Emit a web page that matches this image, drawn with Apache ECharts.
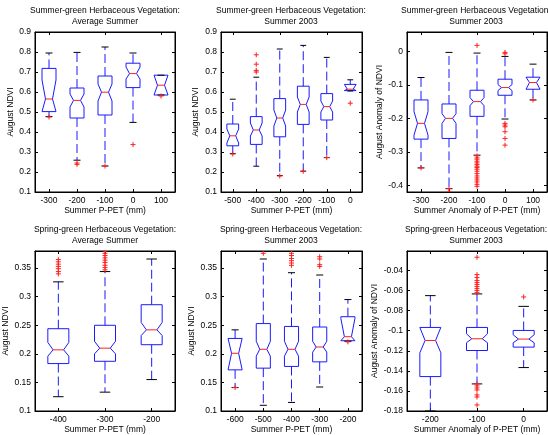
<!DOCTYPE html>
<html>
<head>
<meta charset="utf-8">
<script src="https://cdn.jsdelivr.net/npm/echarts@6/dist/echarts.min.js"></script>
<style>
  html, body { margin: 0; padding: 0; background: #fff; }
  #chart { width: 548px; height: 435px; }
</style>
</head>
<body>
<div id="chart"></div>
<script>
// box rows: [lower whisker, q1, median, q3, upper whisker]; notch: [low, high]; outliers: [category index, value]

// Summer-green, average summer
const p1Cats = ['-300', '-200', '-100', '0', '100'];
const p1Box = [
  [0.477, 0.502, 0.565, 0.718, 0.795],
  [0.259, 0.470, 0.558, 0.620, 0.798],
  [0.230, 0.485, 0.599, 0.680, 0.825],
  [0.448, 0.622, 0.692, 0.744, 0.795],
  [0.585, 0.585, 0.634, 0.684, 0.684]
];
const p1Notch = [[0.47, 0.66], [0.525, 0.59], [0.555, 0.64], [0.665, 0.725], [0.58, 0.69]];
const p1Out = [[0, 0.475], [1, 0.245], [1, 0.238], [2, 0.23], [3, 0.337], [4, 0.58]];
const p1YTicks = [0.1, 0.2, 0.3, 0.4, 0.5, 0.6, 0.7, 0.8, 0.9];

// Summer-green, summer 2003
const p2Cats = ['-500', '-400', '-300', '-200', '-100', '0'];
const p2Box = [
  [0.292, 0.331, 0.381, 0.440, 0.564],
  [0.229, 0.338, 0.410, 0.477, 0.674],
  [0.182, 0.376, 0.470, 0.567, 0.815],
  [0.204, 0.438, 0.538, 0.629, 0.833],
  [0.272, 0.460, 0.527, 0.592, 0.773],
  [0.605, 0.607, 0.614, 0.638, 0.661]
];
const p2Notch = [[0.345, 0.415], [0.38, 0.445], [0.43, 0.51], [0.5, 0.575], [0.5, 0.555], [0.6, 0.64]];
const p2Out = [[0, 0.29], [1, 0.786], [1, 0.739], [1, 0.708], [1, 0.70], [2, 0.18], [3, 0.204], [4, 0.272], [5, 0.544]];
const p2YTicks = [0.1, 0.2, 0.3, 0.4, 0.5, 0.6, 0.7, 0.8, 0.9];

// Summer-green, summer 2003 anomalies
const p3Cats = ['-300', '-200', '-100', '0', '100'];
const p3Box = [
  [-0.348, -0.262, -0.215, -0.145, -0.078],
  [-0.410, -0.260, -0.200, -0.157, -0.003],
  [-0.310, -0.194, -0.150, -0.116, -0.005],
  [-0.202, -0.131, -0.108, -0.083, -0.015],
  [-0.145, -0.113, -0.093, -0.077, -0.038]
];
const p3Notch = [[-0.25, -0.18], [-0.215, -0.186], [-0.162, -0.138], [-0.117, -0.099], [-0.115, -0.075]];
const p3Out = [
  [0, -0.348], [1, -0.41], [1, -0.42],
  [2, 0.018], [2, -0.312], [2, -0.318], [2, -0.322], [2, -0.328], [2, -0.333], [2, -0.338],
  [2, -0.343], [2, -0.347], [2, -0.352], [2, -0.358], [2, -0.365], [2, -0.372], [2, -0.378],
  [2, -0.384], [2, -0.39], [2, -0.397], [2, -0.403],
  [3, -0.003], [3, -0.007], [3, -0.215], [3, -0.22], [3, -0.225], [3, -0.24], [3, -0.26], [3, -0.28],
  [4, -0.145]
];
const p3YTicks = [-0.4, -0.3, -0.2, -0.1, 0];

// Spring-green, average summer
const p4Cats = ['-400', '-300', '-200'];
const p4Box = [
  [0.125, 0.183, 0.207, 0.244, 0.326],
  [0.133, 0.187, 0.210, 0.250, 0.344],
  [0.155, 0.216, 0.242, 0.286, 0.366]
];
const p4Notch = [[0.196, 0.22], [0.2, 0.222], [0.232, 0.255]];
const p4Out = [
  [0, 0.34], [0, 0.344], [0, 0.349], [0, 0.353], [0, 0.357], [0, 0.361], [0, 0.365],
  [1, 0.347], [1, 0.351], [1, 0.355], [1, 0.36], [1, 0.364], [1, 0.368], [1, 0.372], [1, 0.376], [1, 0.38]
];
const p4YTicks = [0.1, 0.15, 0.2, 0.25, 0.3, 0.35];

// Spring-green, summer 2003
const p5Cats = ['-600', '-500', '-400', '-300', '-200'];
const p5Box = [
  [0.141, 0.172, 0.201, 0.227, 0.242],
  [0.110, 0.175, 0.208, 0.253, 0.366],
  [0.115, 0.178, 0.208, 0.248, 0.342],
  [0.142, 0.186, 0.212, 0.247, 0.338],
  [0.222, 0.223, 0.230, 0.265, 0.295]
];
const p5Notch = [[0.17, 0.23], [0.196, 0.222], [0.196, 0.222], [0.203, 0.222], [0.222, 0.262]];
const p5Out = [
  [0, 0.141], [1, 0.376],
  [2, 0.376], [2, 0.372], [2, 0.367], [2, 0.363], [2, 0.359], [2, 0.355],
  [3, 0.37], [3, 0.366], [3, 0.356], [3, 0.353], [4, 0.221]
];
const p5YTicks = [0.1, 0.15, 0.2, 0.25, 0.3, 0.35];

// Spring-green, summer 2003 anomalies
const p6Cats = ['-200', '-100', '0'];
const p6Box = [
  [-0.180, -0.1457, -0.1097, -0.0967, -0.065],
  [-0.153, -0.1197, -0.108, -0.0967, -0.0633],
  [-0.1367, -0.1163, -0.1083, -0.0997, -0.0757]
];
const p6Notch = [[-0.122, -0.095], [-0.112, -0.103], [-0.112, -0.104]];
const p6Out = [
  [1, -0.0267], [1, -0.044], [1, -0.047], [1, -0.05], [1, -0.052], [1, -0.054], [1, -0.056],
  [1, -0.058], [1, -0.06], [1, -0.062],
  [1, -0.153], [1, -0.155], [1, -0.157], [1, -0.159], [1, -0.164], [1, -0.166], [1, -0.174],
  [2, -0.0663]
];
const p6YTicks = [-0.18, -0.16, -0.14, -0.12, -0.1, -0.08, -0.06, -0.04];

const SG = 'Summer-green Herbaceous Vegetation:';
const SP = 'Spring-green Herbaceous Vegetation:';

const panels = [
  {cats: p1Cats, box: p1Box, notch: p1Notch, out: p1Out, ticks: p1YTicks, min: 0.1, max: 0.9,
   title: SG + '\nAverage Summer', xName: 'Summer P-PET (mm)', yName: 'August NDVI',
   left: 35, top: 32, width: 140, height: 160, yGap: 20, tx: 105},
  {cats: p2Cats, box: p2Box, notch: p2Notch, out: p2Out, ticks: p2YTicks, min: 0.1, max: 0.9,
   title: SG + '\nSummer 2003', xName: 'Summer P-PET (mm)', yName: 'August NDVI',
   left: 221, top: 32, width: 141, height: 160, yGap: 21, tx: 291},
  {cats: p3Cats, box: p3Box, notch: p3Notch, out: p3Out, ticks: p3YTicks, min: -0.42, max: 0.058,
   title: SG + '\nSummer 2003', xName: 'Summer Anomaly of P-PET (mm)', yName: 'August Anomaly of NDVI',
   left: 407, top: 32, width: 140, height: 160, yGap: 22, tx: 476},
  {cats: p4Cats, box: p4Box, notch: p4Notch, out: p4Out, ticks: p4YTicks, min: 0.1, max: 0.38,
   title: SP + '\nAverage Summer', xName: 'Summer P-PET (mm)', yName: 'August NDVI',
   left: 35, top: 251, width: 140, height: 161, yGap: 25, tx: 105},
  {cats: p5Cats, box: p5Box, notch: p5Notch, out: p5Out, ticks: p5YTicks, min: 0.1, max: 0.38,
   title: SP + '\nSummer 2003', xName: 'Summer P-PET (mm)', yName: 'August NDVI',
   left: 221, top: 251, width: 141, height: 161, yGap: 24, tx: 291},
  {cats: p6Cats, box: p6Box, notch: p6Notch, out: p6Out, ticks: p6YTicks, min: -0.18, max: -0.0205,
   title: SP + '\nSummer 2003', xName: 'Summer Anomaly of P-PET (mm)', yName: 'August Anomaly of NDVI',
   left: 407, top: 251, width: 140, height: 161, yGap: 28, tx: 476}
];

const FONT = '"Liberation Sans", Arial, Helvetica, sans-serif';
const BLUE = '#1a1aff';
const RED = '#ff2020';

function boxRenderer(frac) {
  return function (params, api) {
    const i = api.value(0);
    const low = api.value(1), q1 = api.value(2), med = api.value(3), q3 = api.value(4), high = api.value(5);
    const nlo = Math.max(api.value(6), q1), nhi = Math.min(api.value(7), q3);
    const cx = api.coord([i, med])[0];
    const bw = api.size([1, 0])[0] * frac;
    const y = v => api.coord([i, v])[1];
    const xl = cx - bw / 2, xr = cx + bw / 2, ins = bw * 0.25, cap = bw / 4;
    const ym = y(med);
    return {
      type: 'group',
      children: [
        {type: 'line', shape: {x1: cx, y1: y(q3), x2: cx, y2: y(high)},
         style: {stroke: BLUE, lineWidth: 1, lineDash: [9, 4]}},
        {type: 'line', shape: {x1: cx, y1: y(q1), x2: cx, y2: y(low)},
         style: {stroke: BLUE, lineWidth: 1, lineDash: [9, 4]}},
        {type: 'polygon', shape: {points: [
          [xl, y(q1)], [xl, y(nlo)], [xl + ins, ym], [xl, y(nhi)], [xl, y(q3)],
          [xr, y(q3)], [xr, y(nhi)], [xr - ins, ym], [xr, y(nlo)], [xr, y(q1)]
        ]}, style: {fill: 'none', stroke: BLUE, lineWidth: 1}},
        {type: 'line', shape: {x1: xl + ins, y1: ym, x2: xr - ins, y2: ym},
         style: {stroke: RED, lineWidth: 1}},
        {type: 'line', shape: {x1: cx - cap, y1: y(high), x2: cx + cap, y2: y(high)},
         style: {stroke: '#000', lineWidth: 1}},
        {type: 'line', shape: {x1: cx - cap, y1: y(low), x2: cx + cap, y2: y(low)},
         style: {stroke: '#000', lineWidth: 1}}
      ]
    };
  };
}

function plusRenderer(params, api) {
  const p = api.coord([api.value(0), api.value(1)]);
  const s = 2.5;
  return {
    type: 'group',
    children: [
      {type: 'line', shape: {x1: p[0] - s, y1: p[1], x2: p[0] + s, y2: p[1]}, style: {stroke: RED, lineWidth: 1}},
      {type: 'line', shape: {x1: p[0], y1: p[1] - s, x2: p[0], y2: p[1] + s}, style: {stroke: RED, lineWidth: 1}}
    ]
  };
}

const grid = [], xAxis = [], yAxis = [], series = [], graphic = [];

panels.forEach((p, k) => {
  grid.push({left: p.left, top: p.top, width: p.width, height: p.height,
    show: true, borderColor: '#000', borderWidth: 1, backgroundColor: '#fff'});

  const tick = {show: true, inside: true, length: 3, lineStyle: {color: '#000'}};
  xAxis.push({
    type: 'category', gridIndex: k, data: p.cats, boundaryGap: true,
    name: p.xName, nameLocation: 'middle', nameGap: 14,
    nameTextStyle: {fontSize: 8.5, color: '#000', fontFamily: FONT},
    axisLine: {onZero: false, lineStyle: {color: '#000'}},
    axisTick: Object.assign({alignWithLabel: true}, tick),
    axisLabel: {margin: 4, fontSize: 8.5, color: '#000', fontFamily: FONT, interval: 0},
    splitLine: {show: false}
  });
  xAxis.push({
    type: 'category', gridIndex: k, data: p.cats, boundaryGap: true, position: 'top',
    axisLine: {onZero: false, lineStyle: {color: '#000'}},
    axisTick: Object.assign({alignWithLabel: true}, tick),
    axisLabel: {show: false}, splitLine: {show: false}
  });
  yAxis.push({
    type: 'value', gridIndex: k, min: p.min, max: p.max,
    name: p.yName, nameLocation: 'middle', nameGap: p.yGap,
    nameTextStyle: {fontSize: 8.5, color: '#000', fontFamily: FONT},
    axisLine: {show: true, onZero: false, lineStyle: {color: '#000'}},
    axisTick: Object.assign({customValues: p.ticks}, tick),
    axisLabel: {customValues: p.ticks, margin: 4, fontSize: 8.5, color: '#000', fontFamily: FONT},
    splitLine: {show: false}
  });
  yAxis.push({
    type: 'value', gridIndex: k, min: p.min, max: p.max, position: 'right',
    axisLine: {show: true, onZero: false, lineStyle: {color: '#000'}},
    axisTick: Object.assign({customValues: p.ticks}, tick),
    axisLabel: {show: false}, splitLine: {show: false}
  });

  const frac = p.cats.length >= 4 ? 0.5 : 0.45;
  series.push({
    type: 'custom', xAxisIndex: 2 * k, yAxisIndex: 2 * k, clip: true,
    renderItem: boxRenderer(frac),
    encode: {x: 0, y: [1, 2, 3, 4, 5]},
    data: p.box.map((b, i) => [i].concat(b, p.notch[i])),
    silent: true
  });
  series.push({
    type: 'custom', xAxisIndex: 2 * k, yAxisIndex: 2 * k, clip: true,
    renderItem: plusRenderer,
    encode: {x: 0, y: 1},
    data: p.out, silent: true
  });

  graphic.push({
    type: 'text', x: p.tx, y: p.top - 27,
    style: {text: p.title, fill: '#000', font: '8.5px ' + FONT, lineHeight: 11,
      textAlign: 'center', textVerticalAlign: 'top'}
  });
});

const chart = echarts.init(document.getElementById('chart'), null, {renderer: 'canvas'});
chart.setOption({
  animation: false,
  backgroundColor: '#fff',
  textStyle: {fontFamily: FONT},
  grid: grid,
  xAxis: xAxis,
  yAxis: yAxis,
  series: series,
  graphic: graphic
});
</script>
</body>
</html>
